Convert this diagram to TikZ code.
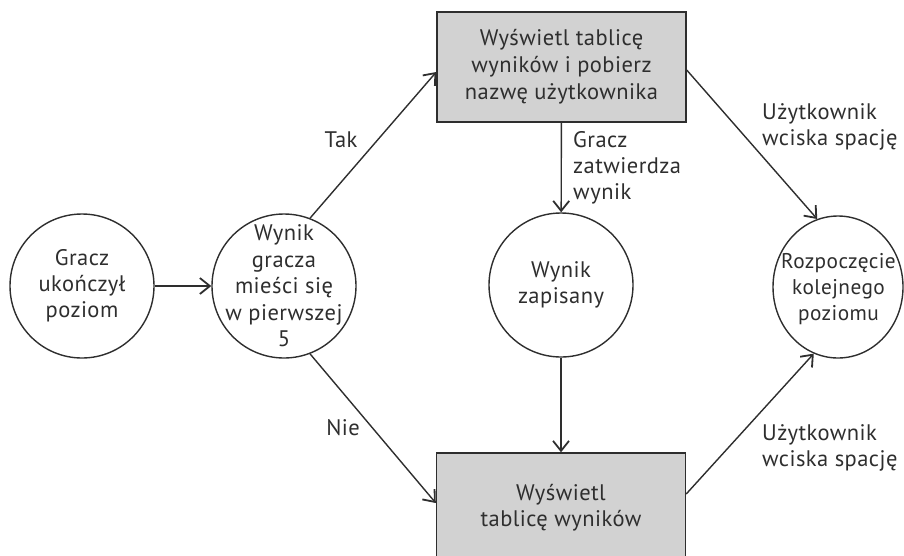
\documentclass[tikz,border=0pt]{standalone}
\usepackage{fontspec}
\setmainfont[LetterSpace=2]{PT Sans}
\usetikzlibrary{arrows.meta,shapes.geometric}
\definecolor{ink}{HTML}{2E2E2E}
\definecolor{boxfill}{HTML}{D2D2D2}
\begin{document}
\begin{tikzpicture}[x=1pt,y=-1pt,
  every node/.style={font=\fontsize{22.5}{26}\selectfont, text=ink, inner sep=0pt},
  txt/.style={align=center},
  state/.style={circle, draw=ink, line width=1.4pt, minimum size=144pt},
  action/.style={rectangle, draw=ink, fill=boxfill, line width=1.4pt, minimum width=249pt, minimum height=110pt, align=center},
  flow/.style={draw=ink, line width=1.4pt, -{Straight Barb[length=10pt,width=16pt,line width=1.8pt]}},
  lbl/.style={align=left, anchor=west}]
\useasboundingbox (0,0) rectangle (904,555);
\clip (0,0) rectangle (904,555);
% states
\node[state] (done) at (82,286) {};
\node[txt] (donet) at (done) {Gracz\\ukończył\\poziom};
\node[state] (top5) at (284,286) {};
\node[txt,font=\fontsize{22.5}{26.5}\selectfont] (top5t) at (top5) {Wynik\\gracza\\mieści się\\w pierwszej\\5};
\node[state] (saved) at (561,285) {};
\node[txt] (savedt) at (saved) {Wynik\\zapisany};
\node[ellipse, draw=ink, line width=1.4pt, minimum width=130pt, minimum height=142pt] (next) at (838,287) {};
\node[txt,font=\fontsize{21.3}{26}\selectfont] (nextt) at (838.5,289) {Rozpoczęcie\\kolejnego\\poziomu};
% actions
\node[action, font=\fontsize{22.5}{27}\selectfont] (board) at (561.5,67) {Wyświetl tablicę\\wyników i pobierz\\nazwę użytkownika};
\node[action] (scores) at (561,508) {Wyświetl\\tablicę wyników};
% connectors
\draw[flow] (done) -- (top5);
\draw[flow] (top5.69) -- ([yshift=-5pt]board.west);
\draw[flow] (top5.-69) -- ([yshift=5pt]scores.west);
\draw[flow] (board) -- (saved);
\draw[flow] (saved) -- (scores);
\draw[flow] ([yshift=-3pt]board.east) -- (next.107);
\draw[flow] ([yshift=14pt]scores.east) -- (next.-110);
% labels
\node (tak) at (341,140) {Tak};
\node (nie) at (343,428) {Nie};
\node[lbl] (confirm) at (573,168) {Gracz\\zatwierdza\\wynik};
\node[lbl] (space1) at (762,127) {Użytkownik\\wciska spację};
\node[lbl] (space2) at (762,448) {Użytkownik\\wciska spację};
\end{tikzpicture}
\end{document}
